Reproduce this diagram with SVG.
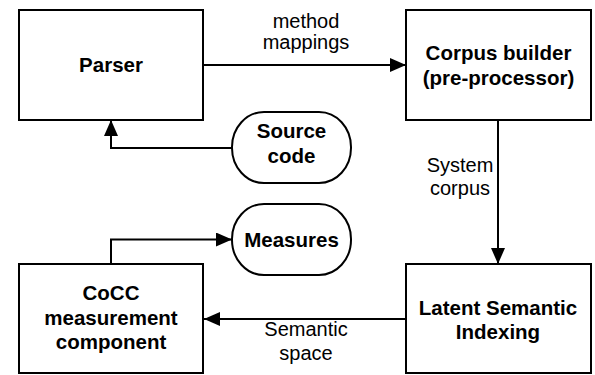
<svg xmlns="http://www.w3.org/2000/svg" width="595" height="375" viewBox="0 0 595 375">
<style>
.box{fill:#fff;stroke:#000;stroke-width:2}
.t{font-family:"Liberation Sans",Arial,sans-serif;font-size:20px;fill:#000;text-anchor:middle}
.b{font-weight:bold;font-size:20.5px}
.c{fill:none;stroke:#000;stroke-width:2}
</style>
<defs>
<marker id="arr" markerUnits="userSpaceOnUse" markerWidth="16" markerHeight="14" refX="16" refY="7" orient="auto">
<path d="M0,0 L16,7 L0,14 z" fill="#000"/>
</marker>
</defs>
<rect width="595" height="375" fill="#fff"/>
<g id="connectors">
<path class="c" d="M203,65 H406" marker-end="url(#arr)"/>
<path class="c" d="M232,148 H111 V120" marker-end="url(#arr)"/>
<path class="c" d="M498,120 V264" marker-end="url(#arr)"/>
<path class="c" d="M406,319 H204" marker-end="url(#arr)"/>
<path class="c" d="M111,264 V239.5 H232" marker-end="url(#arr)"/>
<text class="t" x="306" y="28">method</text>
<text class="t" x="306" y="48.5">mappings</text>
<text class="t" x="460" y="172">System</text>
<text class="t" x="460" y="195">corpus</text>
<text class="t" x="306" y="336">Semantic</text>
<text class="t" x="306" y="360">space</text>
</g>
<g id="parser">
<rect class="box" x="19" y="10" width="184" height="110"/>
<text class="t b" x="111" y="72">Parser</text>
</g>
<g id="corpus-builder">
<rect class="box" x="406" y="10" width="185" height="110"/>
<text class="t b" x="498.5" y="59.5">Corpus builder</text>
<text class="t b" x="498.5" y="84.5">(pre-processor)</text>
</g>
<g id="source-code">
<rect class="box" x="232" y="112" width="119" height="71" rx="32" ry="35"/>
<text class="t b" x="291.5" y="138">Source</text>
<text class="t b" x="291.5" y="163">code</text>
</g>
<g id="measures">
<rect class="box" x="232" y="204" width="119" height="71" rx="32" ry="35"/>
<text class="t b" x="291.5" y="246.5">Measures</text>
</g>
<g id="cocc">
<rect class="box" x="19" y="264" width="184" height="109"/>
<text class="t b" x="111" y="300">CoCC</text>
<text class="t b" x="111" y="324.5">measurement</text>
<text class="t b" x="111" y="349">component</text>
</g>
<g id="lsi">
<rect class="box" x="406" y="264" width="185" height="109"/>
<text class="t b" x="498" y="314.5">Latent Semantic</text>
<text class="t b" x="498" y="338.5">Indexing</text>
</g>
</svg>
